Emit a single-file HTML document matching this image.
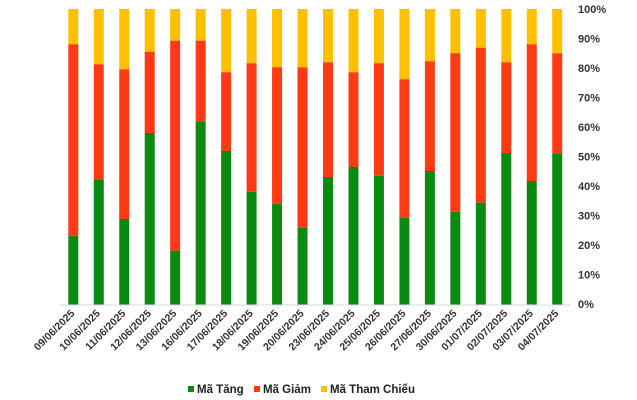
<!DOCTYPE html>
<html><head><meta charset="utf-8"><style>
html,body{margin:0;padding:0;background:#fff;}
svg{display:block;font-family:"Liberation Sans",Arial,sans-serif;}
</style></head><body>
<svg width="637" height="400" viewBox="0 0 637 400" xmlns="http://www.w3.org/2000/svg">
<line x1="60" y1="305" x2="570" y2="305" stroke="#d9d9d9" stroke-width="1"/>
<g id="bars"></g>
<g font-size="11" font-weight="bold" fill="#333">
<text x="578" y="13">100%</text>
<text x="578" y="42.5">90%</text>
<text x="578" y="72">80%</text>
<text x="578" y="101.5">70%</text>
<text x="578" y="131">60%</text>
<text x="578" y="160.5">50%</text>
<text x="578" y="190">40%</text>
<text x="578" y="219.5">30%</text>
<text x="578" y="249">20%</text>
<text x="578" y="278.5">10%</text>
<text x="578" y="308">0%</text>
</g>
<g id="labels" font-size="10.5" font-weight="bold" fill="#333"></g>
<g font-size="11.5" font-weight="bold" fill="#222">
<rect x="188" y="386" width="6" height="6" fill="#0b8a12"/><text x="197" y="393">Mã Tăng</text>
<rect x="254" y="386" width="6" height="6" fill="#ff3a14"/><text x="263" y="393">Mã Giảm</text>
<rect x="321" y="386" width="6" height="6" fill="#ffc000"/><text x="330" y="393">Mã Tham Chiếu</text>
</g>
<script>
var g=[235.7,180,219,133,250.7,121.3,151,191.7,203.7,227.7,177,167,175.7,217.7,171,211.7,202.7,153,181,154];
var r=[44.3,64.3,69.3,51.7,40.7,40.7,72.3,63.3,67.3,67.3,62.3,72.3,63.3,79.3,61.3,53.3,47.7,62.3,44.3,53.3];
var d=["09/06/2025","10/06/2025","11/06/2025","12/06/2025","13/06/2025","16/06/2025","17/06/2025","18/06/2025","19/06/2025","20/06/2025","23/06/2025","24/06/2025","25/06/2025","26/06/2025","27/06/2025","30/06/2025","01/07/2025","02/07/2025","03/07/2025","04/07/2025"];
var ns="http://www.w3.org/2000/svg",B=document.getElementById("bars"),L=document.getElementById("labels");
function rc(x,y,h,c){var e=document.createElementNS(ns,"rect");e.setAttribute("x",x);e.setAttribute("y",y);e.setAttribute("width",10);e.setAttribute("height",h);e.setAttribute("fill",c);B.appendChild(e);}
for(var i=0;i<20;i++){var x=68.3+25.47*i;
rc(x,9,r[i]-9,"#ffc000");rc(x,r[i],g[i]-r[i],"#ff3a14");rc(x,g[i],304.5-g[i],"#0b8a12");
var t=document.createElementNS(ns,"text");var cx=x+7,cy=314;t.setAttribute("x",cx);t.setAttribute("y",cy);t.setAttribute("text-anchor","end");t.setAttribute("transform","rotate(-45 "+cx+" "+cy+")");t.textContent=d[i];L.appendChild(t);}
</script>
</svg>
</body></html>
